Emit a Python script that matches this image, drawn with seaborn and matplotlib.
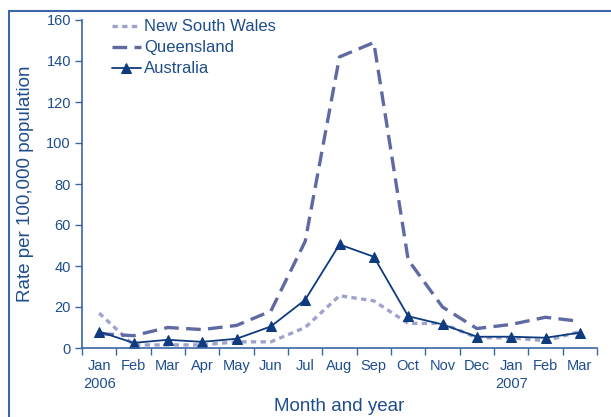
import matplotlib
matplotlib.use("Agg")
import matplotlib.pyplot as plt
import seaborn as sns
import pandas as pd
import numpy as np
from matplotlib.patches import Rectangle

months = ["Jan\n2006", "Feb", "Mar", "Apr", "May", "Jun", "Jul", "Aug", "Sep",
          "Oct", "Nov", "Dec", "Jan\n2007", "Feb", "Mar"]
nsw = [17, 1.5, 1.5, 1.5, 3, 3, 10, 25.5, 23, 12, 12, 5, 5, 3.5, 8]
qld = [7, 6, 10, 9, 11, 18, 52, 142, 149, 43, 20, 9.5, 11.5, 15, 13]
aus = [8, 2.5, 4, 3, 4.5, 10.5, 23.5, 50.5, 44.5, 15.5, 11.5, 5.5, 5.5, 5, 7.5]

sns.set_style("white")
plt.rcParams['font.family'] = ['Liberation Sans', 'DejaVu Sans']

text_c = "#1f4e8c"
axis_c = "#3a66a6"
nsw_c = "#9ea2cc"
qld_c = "#5f6aa2"
aus_c = "#0e3a80"

fig = plt.figure(figsize=(6.11, 4.17), dpi=100)
ax = fig.add_axes([82/611, 1-348/417, (597-82)/611, (348-20)/417])

x = np.arange(len(months))
df = pd.DataFrame({"x": x, "nsw": nsw, "qld": qld, "aus": aus})

sns.lineplot(data=df, x="x", y="nsw", ax=ax, color=nsw_c, lw=2.4,
             label="New South Wales")
ax.lines[-1].set_dashes((1.6, 1.3))
sns.lineplot(data=df, x="x", y="qld", ax=ax, color=qld_c, lw=2.4,
             label="Queensland")
ax.lines[-1].set_dashes((4.4, 2.2))
sns.lineplot(data=df, x="x", y="aus", ax=ax, color=aus_c, lw=1.3,
             marker="^", markersize=7, markeredgecolor=aus_c, label="Australia")

ax.set_xlim(-0.5, 14.5)
ax.set_ylim(0, 160)
ax.set_yticks(np.arange(0, 161, 20))
ax.set_xticks(np.arange(-0.5, 15, 1))
ax.set_xticklabels([])
ax.set_xticks(x, minor=True)
ax.set_xticklabels(months, minor=True, color=text_c, fontsize=10.5, linespacing=1.35)
ax.tick_params(axis="x", which="major", length=5, width=1, color=axis_c, direction="out", bottom=True)
ax.tick_params(axis="x", which="minor", length=0, pad=8, bottom=True)
ax.tick_params(axis="y", length=5, width=1, color=axis_c, direction="out", left=True,
               labelcolor=text_c, labelsize=10.5, pad=3)

for s in ["top", "right"]:
    ax.spines[s].set_visible(False)
for s in ["left", "bottom"]:
    ax.spines[s].set_color(axis_c)
    ax.spines[s].set_linewidth(1.2)

ax.set_xlabel("Month and year", color=text_c, fontsize=13.5, labelpad=5)
ax.set_ylabel("Rate per 100,000 population", color=text_c, fontsize=13.5, labelpad=9)

leg = ax.legend(loc="upper left", bbox_to_anchor=(0.045, 1.022), frameon=False,
                fontsize=12, handlelength=1.75, handletextpad=0.2, labelspacing=0.36,
                borderaxespad=0)
for t in leg.get_texts():
    t.set_color(text_c)

fig.patches.append(Rectangle((9/611, -0.1), 1.2, 1-11/417+0.1, transform=fig.transFigure,
                             fill=False, edgecolor=axis_c, lw=1.5, figure=fig))

fig.savefig("out.png", dpi=100)
